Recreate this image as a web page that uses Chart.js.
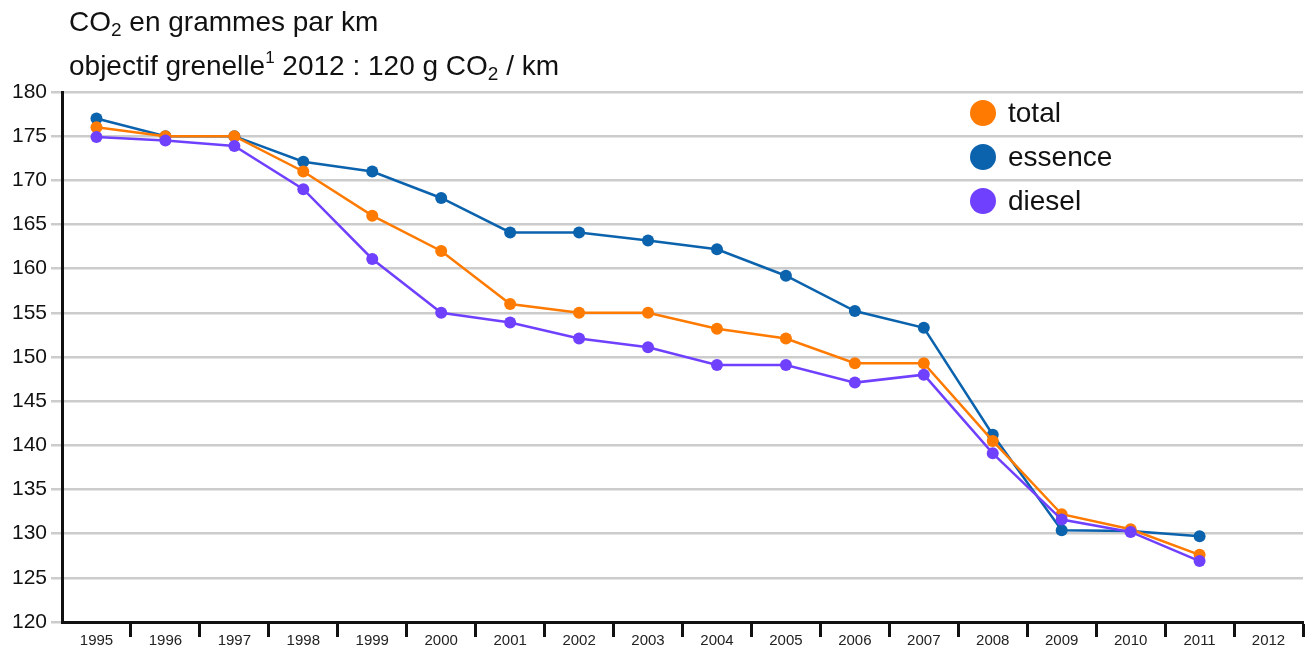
<!DOCTYPE html>
<html>
<head>
<meta charset="utf-8">
<script src="https://cdn.jsdelivr.net/npm/chart.js@4"></script>
<style>
  html, body { margin: 0; padding: 0; background: #fff; }
  #wrap { position: relative; width: 1309px; height: 650px; font-family: "Liberation Sans", Arial, sans-serif; color: #111; }
  canvas { position: absolute; left: 0; top: 0; }
  .title { position: absolute; left: 69px; font-size: 28px; white-space: nowrap; line-height: 32px; }
  .title sub { font-size: 19px; vertical-align: -5px; line-height: 0; }
  .title sup { font-size: 17px; vertical-align: 12px; line-height: 0; }
  #legend { position: absolute; left: 970px; top: 91px; }
  .row { height: 44px; display: flex; align-items: center; font-size: 28px; }
  .dot { width: 26px; height: 26px; border-radius: 50%; margin-right: 12px; }
</style>
</head>
<body>
<div id="wrap">
  <canvas id="chart" width="1309" height="650"></canvas>
  <div class="title" style="top:6px">CO<sub>2</sub> en grammes par km</div>
  <div class="title" style="top:50px">objectif grenelle<sup>1</sup> 2012 : 120 g CO<sub>2</sub> / km</div>
  <div id="legend"></div>
</div>
<script>
// Data
const years = ["1995", "1996", "1997", "1998", "1999", "2000", "2001", "2002", "2003",
  "2004", "2005", "2006", "2007", "2008", "2009", "2010", "2011", "2012"];
const total = [176, 175, 175, 171, 166, 162, 156, 155, 155, 153.2, 152.1, 149.3, 149.3, 140.5, 132.2, 130.5, 127.6, null];
const essence = [177, 175, 175, 172.1, 171, 168, 164.1, 164.1, 163.2, 162.2, 159.2, 155.2, 153.3, 141.2, 130.4, 130.3, 129.7, null];
const diesel = [174.9, 174.5, 173.9, 169, 161.1, 155, 153.9, 152.1, 151.1, 149.1, 149.1, 147.1, 148, 139.1, 131.6, 130.2, 126.9, null];

const seriesNames = ["total", "essence", "diesel"];
const seriesColors = ["#ff7a00", "#0b62ad", "#7040ff"];
const yTicks = [120, 125, 130, 135, 140, 145, 150, 155, 160, 165, 170, 175, 180];

// legend, drawn as html so it sits between the gridlines like the original
const legendBox = document.querySelector("#legend");
legendBox.innerHTML = seriesNames
  .map((name, i) => `<div class="row"><span class="dot" style="background:${seriesColors[i]}"></span>${name}</div>`)
  .join("");

function makeSet(label, data, color, order) {
  return {
    label: label,
    data: data,
    borderColor: color,
    backgroundColor: color,
    borderWidth: 2.5,
    pointRadius: 6,
    pointHoverRadius: 6,
    pointBorderWidth: 0,
    tension: 0,
    order: order,
  };
}

const ctx = document.querySelector("#chart").getContext("2d");
new Chart(ctx, {
  type: "line",
  data: {
    labels: years,
    datasets: [
      makeSet(seriesNames[0], total, seriesColors[0], 2),
      makeSet(seriesNames[1], essence, seriesColors[1], 3),
      makeSet(seriesNames[2], diesel, seriesColors[2], 1),
    ],
  },
  options: {
    responsive: false,
    animation: false,
    layout: { padding: { top: 92, right: 4, left: 0, bottom: 0 } },
    plugins: {
      legend: { display: false },
      tooltip: { enabled: false },
    },
    scales: {
      x: {
        offset: true,
        grid: {
          offset: true,
          drawOnChartArea: false,
          drawTicks: true,
          tickLength: 15,
          tickWidth: 3,
          // no tick mark at the two ends of the axis
          tickColor: (c) => (c.index === 0 || c.index >= years.length ? "rgba(0,0,0,0)" : "#111"),
          color: "#111",
        },
        border: { color: "#111", width: 3 },
        ticks: {
          color: "#222",
          font: { family: "Liberation Sans", size: 15 },
          padding: -5,
          maxRotation: 0,
          autoSkip: false,
        },
        afterFit: (axis) => { axis.height = 28; },
      },
      y: {
        min: 120,
        max: 180,
        afterBuildTicks: (axis) => { axis.ticks = yTicks.map((v) => ({ value: v })); },
        grid: {
          color: "#cccccc",
          lineWidth: 2.5,
          tickLength: 11,
        },
        border: { color: "#111", width: 3 },
        ticks: {
          color: "#111",
          font: { family: "Liberation Sans", size: 21 },
          padding: 4,
        },
        afterFit: (axis) => { axis.width = 62; },
      },
    },
  },
});
</script>
</body>
</html>
